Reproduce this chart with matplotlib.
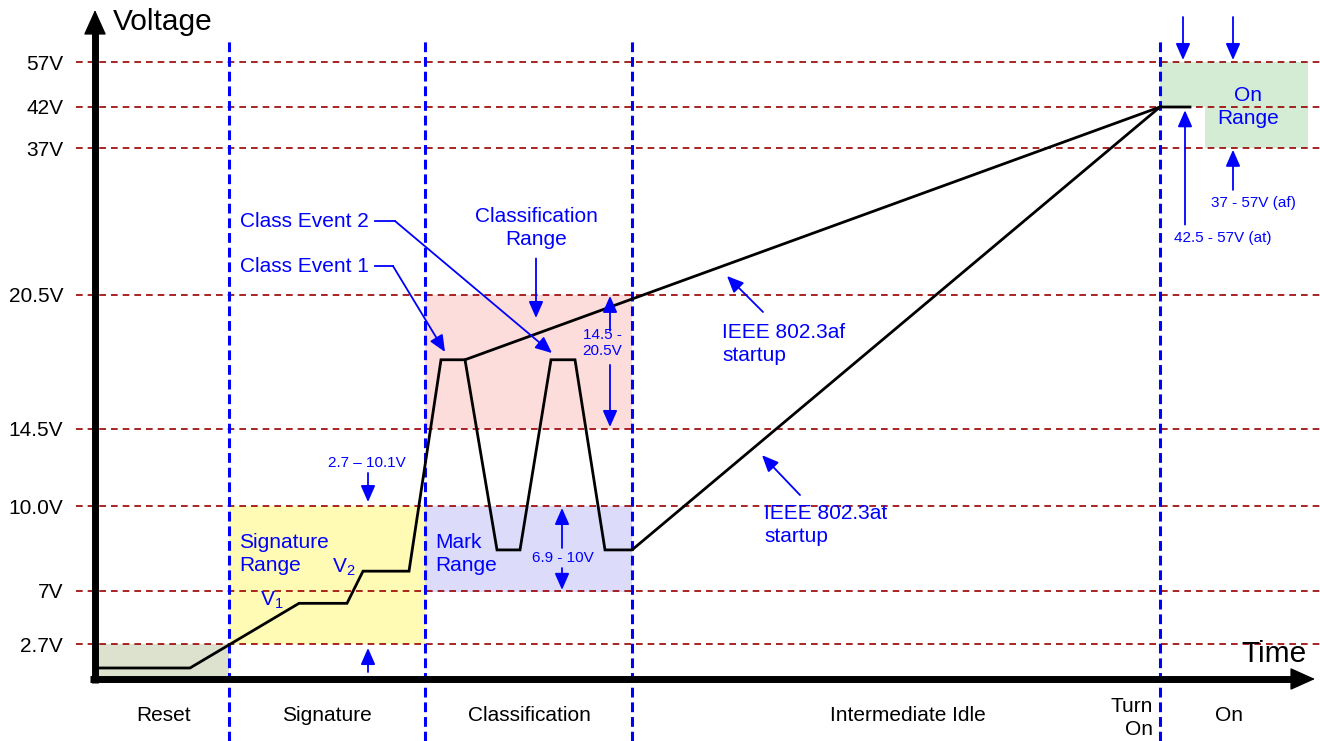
import numpy as np
import matplotlib
matplotlib.use("Agg")
import matplotlib.pyplot as plt

plt.rcParams["font.family"] = ["Liberation Sans", "DejaVu Sans"]
plt.rcParams["mathtext.default"] = "regular"

BLUE = "#0000ff"
DARK_RED = "#990000"

# voltage levels marked on the axis
TICK_VOLTS = [2.7, 7, 10, 14.5, 20.5, 37, 42, 57]
TICK_LABELS = ["2.7V", "7V", "10.0V", "14.5V", "20.5V", "37V", "42V", "57V"]

# the voltage axis is not to scale: room given to each level
SCALE_VOLTS = [-10, 0, 2.7, 7, 10, 14.5, 20.5, 37, 42, 57, 70, 100]
SCALE_POS = [-130, 0, 35, 88, 173, 250, 384, 531, 572, 617, 669, 789]

# phases along the time axis (arbitrary time units)
PHASE_NAMES = ["Reset", "Signature", "Classification", "Intermediate Idle", "On"]
PHASE_LABEL_T = [69, 232, 434, 813, 1134]
PHASE_EDGES = [134, 330, 537, 1065]

# shaded voltage windows
RANGE_T0 = [0, 134, 330, 330, 1065, 1110]
RANGE_T1 = [134, 330, 537, 537, 1213, 1213]
RANGE_V0 = [0, 2.7, 14.5, 6.9, 42, 37]
RANGE_V1 = [2.7, 10, 20.5, 10, 57, 42]
RANGE_COLORS = ["#dce2cd", "#fffbb4", "#fddcdc", "#dcdcfa", "#d4ecd4", "#d4ecd4"]

# PD voltage waveform (802.3at, two class events)
WAVE_T = [0, 95, 204, 252, 268, 314, 346, 370, 402, 425, 456, 480, 510, 537, 1065, 1095]
WAVE_V = [0.85, 0.85, 6.0, 6.0, 7.7, 7.7, 17.6, 17.6, 8.45, 8.45, 17.6, 17.6, 8.45, 8.45, 42, 42]

# 802.3af startup after a single class event
AF_T = [370, 1065]
AF_V = [17.6, 42]


def fwd(v):
    return np.interp(v, SCALE_VOLTS, SCALE_POS)


def inv(p):
    return np.interp(p, SCALE_POS, SCALE_VOLTS)


def blue_arrow(ax, tail, tip):
    ax.annotate("", xy=tip, xytext=tail, annotation_clip=False,
                arrowprops=dict(arrowstyle="-|>,head_length=0.5,head_width=0.22",
                                mutation_scale=20, color=BLUE, lw=1.3,
                                shrinkA=0, shrinkB=0), zorder=6)


def main():
    fig = plt.figure(figsize=(13.2, 7.41), dpi=100)
    ax = fig.add_axes([95 / 1320, 62 / 741, 1220 / 1320, 669 / 741])
    ax.set_yscale("function", functions=(fwd, inv))
    ax.set_xlim(0, 1220)
    ax.set_ylim(0, 70)
    for s in ax.spines.values():
        s.set_visible(False)
    ax.set_xticks([])
    ax.set_yticks(TICK_VOLTS, labels=TICK_LABELS)
    ax.yaxis.set_minor_locator(matplotlib.ticker.NullLocator())
    ax.tick_params(axis="y", length=0, pad=23, labelsize=15)

    # shaded ranges
    for t0, t1, v0, v1, c in zip(RANGE_T0, RANGE_T1, RANGE_V0, RANGE_V1, RANGE_COLORS):
        ax.fill_between([t0, t1], v0, v1, color=c, lw=0, zorder=1)

    # level and phase guides
    for v in TICK_VOLTS:
        ax.axhline(v, xmin=-0.0156, xmax=1.004, color=DARK_RED, lw=1.2,
                   linestyle=(0, (4, 3)), clip_on=False, zorder=2)
    for t in PHASE_EDGES:
        ax.axvline(t, ymin=-0.093, ymax=0.96, color=BLUE, lw=2.2,
                   linestyle=(0, (3.2, 1.6)), clip_on=False, zorder=3)

    # waveforms
    ax.plot(WAVE_T, WAVE_V, color="black", lw=2, zorder=4, solid_joinstyle="miter")
    ax.plot(AF_T, AF_V, color="black", lw=2, zorder=4)

    # axes arrows
    ax.plot([0, 0], [-0.006, 0.97], transform=ax.transAxes, color="black", lw=5,
            solid_capstyle="butt", clip_on=False, zorder=7)
    ax.plot([-0.004, 0.985], [0, 0], transform=ax.transAxes, color="black", lw=5,
            solid_capstyle="butt", clip_on=False, zorder=7)
    head = dict(arrowstyle="-|>,head_length=0.8,head_width=0.36", mutation_scale=20,
                color="black", lw=1, shrinkA=0, shrinkB=0)
    ax.annotate("", xy=(0, 1), xytext=(0, 0.95), xycoords="axes fraction",
                arrowprops=head, annotation_clip=False, zorder=7)
    ax.annotate("", xy=(1, 0), xytext=(0.95, 0), xycoords="axes fraction",
                arrowprops=head, annotation_clip=False, zorder=7)
    ax.text(0.0148, 0.970, "Voltage", transform=ax.transAxes, fontsize=21.5,
            ha="left", va="baseline")
    ax.text(0.9934, 0.0254, "Time", transform=ax.transAxes, fontsize=21.5,
            ha="right", va="baseline")

    # phase names under the time axis
    xt = ax.get_xaxis_transform()
    for name, t in zip(PHASE_NAMES, PHASE_LABEL_T):
        ax.text(t, -0.0628, name, transform=xt, fontsize=15, ha="center", va="baseline")
    ax.text(1058, -0.058, "Turn\nOn", transform=xt, fontsize=15, ha="right",
            va="center", linespacing=1.3)

    tk = dict(color=BLUE, fontsize=15, zorder=6, linespacing=1.3)
    sm = dict(color=BLUE, fontsize=11, zorder=6)

    # class events
    ax.text(145, 28.8, "Class Event 2", ha="left", va="center", **tk)
    ax.plot([280, 300], [28.8, 28.8], color=BLUE, lw=1.3, zorder=6)
    blue_arrow(ax, (300, 28.8), (457, 17.9))
    ax.text(145, 23.75, "Class Event 1", ha="left", va="center", **tk)
    ax.plot([280, 298], [23.75, 23.75], color=BLUE, lw=1.3, zorder=6)
    blue_arrow(ax, (298, 23.75), (350, 17.95))

    # classification / mark windows
    ax.text(441, 28.0, "Classification\nRange", ha="center", va="center", **tk)
    blue_arrow(ax, (441, 24.6), (441, 19.47))
    ax.text(507, 18.35, "14.5 -\n20.5V", ha="center", va="center", **sm)
    blue_arrow(ax, (515, 18.9), (515, 20.46))
    blue_arrow(ax, (515, 17.37), (515, 14.59))
    ax.text(340, 8.3, "Mark\nRange", ha="left", va="center", **tk)
    ax.text(468, 8.16, "6.9 - 10V", ha="center", va="center", **sm)
    blue_arrow(ax, (467, 8.52), (467, 9.93))
    blue_arrow(ax, (467, 7.81), (467, 7.04))

    # signature window
    ax.text(144, 8.3, "Signature\nRange", ha="left", va="center", **tk)
    ax.text(165, 6.27, "V$_1$", ha="left", va="center", **tk)
    ax.text(237, 7.85, "V$_2$", ha="left", va="center", **tk)
    ax.text(272, 12.5, "2.7 \u2013 10.1V", ha="center", va="center", **sm)
    blue_arrow(ax, (273, 11.93), (273, 10.23))
    blue_arrow(ax, (273, 0.54), (273, 2.39))

    # startup slopes
    ax.text(627, 18.3, "IEEE 802.3af\nstartup", ha="left", va="center", **tk)
    blue_arrow(ax, (668, 19.74), (632, 22.63))
    ax.text(669, 9.33, "IEEE 802.3at\nstartup", ha="left", va="center", **tk)
    blue_arrow(ax, (705, 10.64), (667, 12.97))

    # on window
    ax.text(1153, 42.0, "On\nRange", ha="center", va="center", **tk)
    blue_arrow(ax, (1088, 68.25), (1088, 57.5))
    blue_arrow(ax, (1138, 68.25), (1138, 57.5))
    blue_arrow(ax, (1090, 28.4), (1090, 41.6))
    ax.text(1128, 26.9, "42.5 - 57V (at)", ha="center", va="center", **sm)
    blue_arrow(ax, (1138, 32.3), (1138, 36.8))
    ax.text(1158, 30.85, "37 - 57V (af)", ha="center", va="center", **sm)

    fig.savefig("out.png", dpi=100)
    plt.close(fig)


if __name__ == "__main__":
    main()
